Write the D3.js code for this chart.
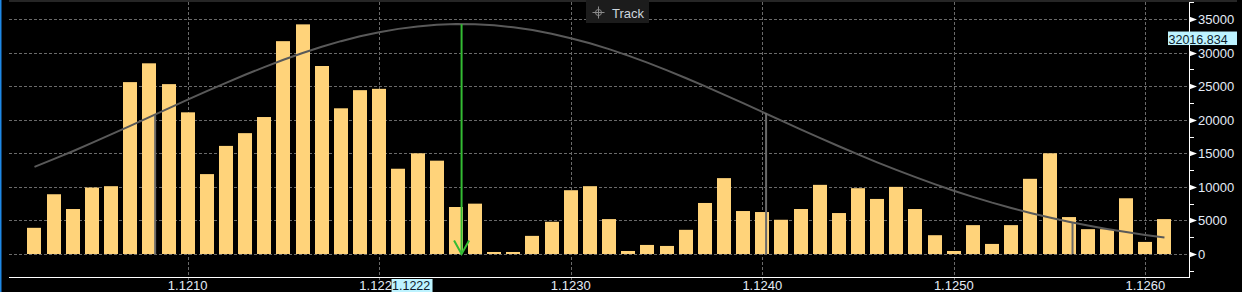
<!DOCTYPE html>
<html>
<head>
<meta charset="utf-8">
<script src="https://cdn.jsdelivr.net/npm/d3@7"></script>
<style>
  html, body { margin: 0; padding: 0; background: #000; }
  svg { display: block; }
  text { font-family: "Liberation Sans", "DejaVu Sans", sans-serif; }
</style>
</head>
<body>
<div id="chart"></div>
<script>
// price levels (one bar per 0.0001)
const prices = [
  1.1202, 1.1203, 1.1204, 1.1205, 1.1206, 1.1207, 1.1208, 1.1209, 1.1210, 1.1211,
  1.1212, 1.1213, 1.1214, 1.1215, 1.1216, 1.1217, 1.1218, 1.1219, 1.1220, 1.1221,
  1.1222, 1.1223, 1.1224, 1.1225, 1.1226, 1.1227, 1.1228, 1.1229, 1.1230, 1.1231,
  1.1232, 1.1233, 1.1234, 1.1235, 1.1236, 1.1237, 1.1238, 1.1239, 1.1240, 1.1241,
  1.1242, 1.1243, 1.1244, 1.1245, 1.1246, 1.1247, 1.1248, 1.1249, 1.1250, 1.1251,
  1.1252, 1.1253, 1.1254, 1.1255, 1.1256, 1.1257, 1.1258, 1.1259, 1.1260, 1.1261
];
const volumes = [
  3900, 8900, 6700, 9900, 10100, 25600, 28400, 25300, 21100, 11900,
  16100, 18000, 20400, 31700, 34200, 28000, 21700, 24400, 24600, 12700,
  15000, 13900, 7000, 7500, 300, 300, 2700, 4800, 9500, 10100,
  5200, 450, 1350, 1200, 3600, 7600, 11300, 6400, 6250, 5100,
  6700, 10300, 6100, 9800, 8200, 10000, 6700, 2800, 450, 4300,
  1500, 4300, 11200, 15000, 5500, 3700, 3700, 8300, 1800, 5200
];
// fitted distribution line, read at each price level
const curve = [
  12970, 14120, 15310, 16550, 17810, 19090, 20380, 21680, 22980, 24250,
  25490, 26690, 27840, 28930, 29940, 30860, 31700, 32420, 33030, 33530,
  33900, 34140, 34240, 34220, 34060, 33770, 33350, 32810, 32140, 31380,
  30510, 29540, 28500, 27390, 26220, 25000, 23740, 22460, 21160, 19870,
  18570, 17300, 16050, 14830, 13650, 12520, 11440, 10400, 9430, 8510,
  7650, 6860, 6120, 5440, 4810, 4240, 3730, 3260, 2840, 2470
];
const xTicks = [1.1210, 1.1220, 1.1230, 1.1240, 1.1250, 1.1260];
const yTicks = [0, 5000, 10000, 15000, 20000, 25000, 30000, 35000];
const yMinorTicks = [-2500, 2500, 7500, 12500, 17500, 22500, 27500, 32500, 37500];
const pocPrice = 1.12243, pocTop = 34240;
const sdPrices = [1.12083, 1.12402, 1.12562];
const sdTops = [20700, 21000, 4650];
const cursorPrice = 1.1222;
const cursorValue = 32016.834;

const W = 1242, H = 292;
const plotL = 9, plotR = 1189, plotB = 277, plotT = 2;

const svg = d3.select('#chart').append('svg')
  .attr('width', W).attr('height', H);

svg.append('rect').attr('width', W).attr('height', H).attr('fill', '#000');

const x = d3.scaleLinear().domain([1.1210, 1.1260]).range([187.7, 1145.3]);
const y = d3.scaleLinear().domain([0, 35000]).range([254, 19]);

// frame bits
svg.append('rect').attr('x', 0).attr('y', 0).attr('width', 1.5).attr('height', H).attr('fill', '#1e88e5');
svg.append('rect').attr('x', plotL).attr('y', 0).attr('width', 1228).attr('height', 2).attr('fill', '#262626');

// grid
const grid = svg.append('g').attr('stroke', '#6a6a6a').attr('stroke-dasharray', '3,2').attr('stroke-width', 1);
grid.selectAll('line.h').data(yTicks).enter().append('line')
  .attr('x1', plotL).attr('x2', plotR)
  .attr('y1', d => Math.round(y(d)) + 0.5).attr('y2', d => Math.round(y(d)) + 0.5);
grid.selectAll('line.v').data(xTicks).enter().append('line')
  .attr('x1', d => Math.round(x(d)) + 0.5).attr('x2', d => Math.round(x(d)) + 0.5)
  .attr('y1', plotT).attr('y2', plotB + 6);

// bars
const step = x(1.1211) - x(1.1210);
const bw = Math.round(step * 0.73);
svg.append('g').selectAll('rect').data(prices).enter().append('rect')
  .attr('x', d => Math.round(x(d) - bw / 2))
  .attr('width', bw)
  .attr('y', (d, i) => y(volumes[i]))
  .attr('height', (d, i) => y(0) - y(volumes[i]))
  .attr('fill', '#ffd37a');

// distribution line
const line = d3.line().x(d => x(d[0])).y(d => y(d[1]));
svg.append('path')
  .datum(prices.map((p, i) => [p, curve[i]]))
  .attr('d', line)
  .attr('fill', 'none').attr('stroke', '#595959').attr('stroke-width', 2);

// deviation markers
svg.append('g').selectAll('line').data(sdPrices).enter().append('line')
  .attr('x1', d => x(d)).attr('x2', d => x(d))
  .attr('y1', (d, i) => y(sdTops[i])).attr('y2', y(0))
  .attr('stroke', '#6a6a6a').attr('stroke-width', 2);

// POC arrow
const gx = x(pocPrice);
svg.append('line').attr('x1', gx).attr('x2', gx).attr('y1', y(pocTop)).attr('y2', y(0))
  .attr('stroke', '#33bb33').attr('stroke-width', 2);
svg.append('path')
  .attr('d', `M${gx - 7.5},${y(0) - 13.5}L${gx},${y(0)}L${gx + 7.5},${y(0) - 13.5}`)
  .attr('fill', 'none').attr('stroke', '#33bb33').attr('stroke-width', 2);

// x axis
svg.append('line').attr('x1', plotL).attr('x2', plotR).attr('y1', plotB + 0.5).attr('y2', plotB + 0.5)
  .attr('stroke', '#fff').attr('stroke-width', 1);
svg.append('g').selectAll('text').data(xTicks).enter().append('text')
  .attr('x', d => x(d)).attr('y', 289.5)
  .attr('text-anchor', 'middle').attr('font-size', 13).attr('fill', '#e4ecf7')
  .text(d => d.toFixed(4));

// y axis
svg.append('line').attr('x1', plotR + 0.5).attr('x2', plotR + 0.5).attr('y1', 3).attr('y2', plotB + 1)
  .attr('stroke', '#fff').attr('stroke-width', 1);
svg.append('g').selectAll('line').data(yMinorTicks).enter().append('line')
  .attr('x1', plotR).attr('x2', plotR + 5)
  .attr('y1', d => Math.round(y(d)) + 0.5).attr('y2', d => Math.round(y(d)) + 0.5)
  .attr('stroke', '#fff');
svg.append('g').selectAll('path').data(yTicks).enter().append('path')
  .attr('d', d => { const yy = Math.round(y(d)) + 0.5; return `M${plotR},${yy - 3}L${plotR + 8},${yy}L${plotR},${yy + 3}Z`; })
  .attr('fill', '#fff');
svg.append('g').selectAll('text').data(yTicks).enter().append('text')
  .attr('x', plotR + 9).attr('y', d => y(d) + 5)
  .attr('font-size', 13).attr('fill', '#e4ecf7')
  .text(d => d);

// cursor labels
const cy = y(cursorValue);
svg.append('rect').attr('x', 1168).attr('y', cy - 7.5).attr('width', 69).attr('height', 13.5).attr('fill', '#bdf3ff');
svg.append('text').attr('x', 1168.5).attr('y', cy + 4.5).attr('font-size', 12.5).attr('fill', '#0d1b2a')
  .text(cursorValue.toFixed(3));

const cx = x(cursorPrice);
svg.append('rect').attr('x', cx - 26).attr('y', 279).attr('width', 41).attr('height', 13).attr('fill', '#bdf3ff');
svg.append('text').attr('x', cx - 25.5).attr('y', 289.5).attr('font-size', 12.5).attr('fill', '#0d1b2a')
  .text(cursorPrice.toFixed(4));

// Track button
const tb = svg.append('g');
tb.append('rect').attr('x', 586).attr('y', 0).attr('width', 63).attr('height', 23).attr('fill', '#1c1c1c');
tb.append('circle').attr('cx', 598.5).attr('cy', 12.5).attr('r', 3).attr('fill', 'none').attr('stroke', '#8a8a8a');
tb.append('line').attr('x1', 592.5).attr('x2', 604.5).attr('y1', 12.5).attr('y2', 12.5).attr('stroke', '#8a8a8a');
tb.append('line').attr('x1', 598.5).attr('x2', 598.5).attr('y1', 6.5).attr('y2', 18.5).attr('stroke', '#8a8a8a');
tb.append('text').attr('x', 612).attr('y', 17.5).attr('font-size', 13).attr('fill', '#cdd5de').text('Track');
</script>
</body>
</html>
